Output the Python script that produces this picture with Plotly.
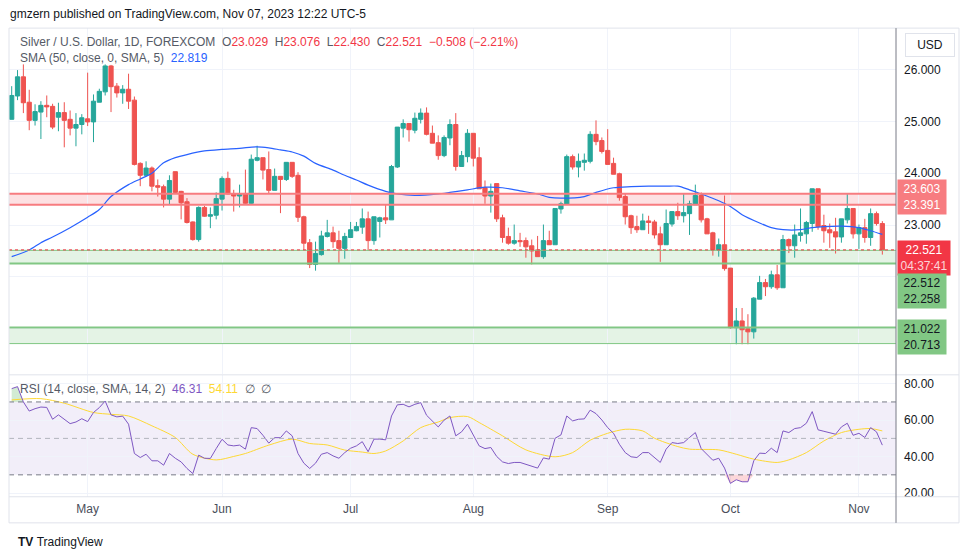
import numpy as np
import pandas as pd
import plotly.graph_objects as go

# Silver / USD daily candles (FOREXCOM), 150 sessions ending 7 Nov 2023
dates = [d.strftime("%Y-%m-%d") for d in pd.bdate_range(end="2023-11-07", periods=150)]

opens = [25.04, 25.49, 25.86, 25.37, 25.02, 25.18, 25.31, 25.29, 25.08, 25.17,
         25.04, 24.87, 24.94, 25.05, 24.99, 25.37, 25.57, 26.07, 25.68, 25.55,
         25.62, 25.41, 24.19, 23.96, 24.10, 23.76, 23.74, 23.50, 24.03, 23.65,
         23.45, 23.06, 22.72, 23.34, 23.17, 23.19, 23.50, 23.90, 23.60, 23.56,
         23.61, 23.42, 24.25, 24.30, 24.07, 23.67, 23.94, 23.88, 24.21, 23.96,
         23.16, 22.66, 22.24, 22.43, 22.78, 22.85, 22.70, 22.55, 22.76, 22.89,
         22.96, 23.12, 22.70, 23.07, 23.14, 23.10, 24.12, 24.87, 24.96, 24.83,
         25.04, 25.16, 24.77, 24.59, 24.34, 24.68, 24.94, 24.13, 24.32, 24.77,
         24.30, 23.72, 23.56, 23.80, 23.14, 22.78, 22.65, 22.70, 22.70, 22.60,
         22.52, 22.39, 22.70, 22.62, 23.31, 23.40, 24.32, 24.12, 24.21, 24.23,
         24.75, 24.63, 24.44, 24.19, 23.99, 23.55, 23.18, 22.97, 22.91, 23.08,
         23.06, 22.83, 22.62, 23.02, 23.26, 23.18, 23.22, 23.39, 23.57, 23.12,
         22.85, 22.52, 22.62, 22.17, 21.02, 21.15, 21.00, 20.94, 21.57, 21.89,
         21.81, 22.04, 21.79, 22.72, 22.60, 22.80, 22.83, 23.03, 23.70, 22.99,
         22.91, 22.87, 22.77, 23.10, 23.32, 22.83, 22.95, 22.76, 23.22, 23.029]
highs = [25.68, 25.99, 26.10, 25.61, 25.33, 25.39, 25.50, 25.34, 25.36, 25.37,
         25.21, 25.16, 25.14, 25.94, 25.52, 25.63, 26.10, 26.09, 25.74, 25.70,
         25.92, 25.48, 24.21, 24.23, 24.13, 23.88, 23.78, 23.96, 24.03, 23.66,
         23.52, 23.07, 23.36, 23.37, 23.34, 23.63, 23.94, 24.03, 23.68, 23.78,
         24.07, 24.36, 24.53, 24.30, 24.42, 24.09, 23.94, 24.21, 24.21, 24.02,
         23.18, 22.73, 22.68, 22.89, 23.10, 22.97, 22.89, 22.85, 23.06, 23.06,
         23.32, 23.26, 23.16, 23.16, 23.39, 24.16, 24.89, 25.04, 24.96, 25.17,
         25.25, 25.27, 24.92, 24.73, 24.73, 25.04, 25.16, 24.43, 24.85, 24.77,
         24.50, 23.86, 23.80, 23.80, 23.20, 22.95, 23.01, 22.85, 22.76, 22.72,
         22.79, 23.01, 22.89, 23.32, 23.45, 24.36, 24.36, 24.38, 24.38, 24.81,
         25.02, 24.69, 24.85, 24.30, 24.01, 23.61, 23.20, 23.18, 23.22, 23.18,
         23.10, 22.97, 23.30, 23.26, 23.43, 23.61, 23.47, 23.78, 23.63, 23.14,
         22.87, 22.74, 23.57, 22.17, 21.40, 21.40, 21.28, 21.61, 22.02, 21.96,
         22.12, 22.23, 22.81, 22.74, 23.01, 23.32, 23.08, 23.70, 23.70, 23.20,
         23.03, 23.14, 23.12, 23.61, 23.32, 23.01, 23.12, 23.32, 23.26, 23.076]
lows = [25.04, 25.41, 25.16, 24.83, 24.92, 24.66, 25.08, 24.85, 24.81, 24.50,
        24.73, 24.52, 24.75, 24.91, 24.60, 25.37, 25.50, 25.18, 25.46, 25.34,
        25.24, 24.15, 23.75, 23.94, 23.65, 23.55, 23.34, 23.39, 23.61, 23.11,
        23.03, 22.70, 22.68, 23.16, 22.94, 23.11, 23.28, 23.59, 23.26, 23.34,
        23.41, 23.41, 24.23, 23.88, 23.61, 23.67, 23.23, 23.85, 23.91, 23.06,
        22.52, 22.17, 22.12, 22.41, 22.76, 22.56, 22.27, 22.35, 22.76, 22.88,
        22.83, 22.50, 22.62, 22.76, 23.02, 23.10, 24.10, 24.69, 24.61, 24.77,
        24.96, 24.73, 24.58, 24.26, 24.31, 24.54, 24.05, 24.12, 24.21, 24.13,
        23.70, 23.41, 23.24, 23.06, 22.66, 22.62, 22.62, 22.58, 22.37, 22.24,
        22.39, 22.35, 22.62, 22.62, 23.22, 23.40, 24.07, 23.92, 24.05, 24.19,
        24.54, 24.38, 24.17, 23.98, 23.47, 23.01, 22.83, 22.85, 22.91, 22.83,
        22.74, 22.29, 22.62, 22.97, 23.10, 23.05, 22.81, 23.39, 23.05, 22.83,
        22.41, 22.39, 22.12, 21.00, 20.70, 20.70, 20.70, 20.81, 21.57, 21.63,
        21.77, 21.75, 21.79, 22.46, 22.37, 22.68, 22.64, 22.87, 22.91, 22.66,
        22.56, 22.45, 22.66, 23.03, 22.74, 22.54, 22.66, 22.60, 22.99, 22.430]
closes = [25.50, 25.86, 25.36, 25.02, 25.19, 25.31, 25.28, 24.89, 25.17, 25.02,
          24.87, 24.94, 25.07, 24.99, 25.39, 25.58, 26.07, 25.67, 25.55, 25.62,
          25.39, 24.17, 23.96, 24.10, 23.75, 23.73, 23.50, 23.86, 23.63, 23.43,
          23.05, 22.72, 23.34, 23.17, 23.20, 23.51, 23.90, 23.60, 23.56, 23.60,
          23.42, 24.27, 24.30, 24.06, 23.67, 23.94, 23.88, 24.21, 23.94, 23.15,
          22.65, 22.24, 22.45, 22.79, 22.85, 22.68, 22.55, 22.78, 22.91, 22.97,
          23.12, 22.70, 23.16, 23.14, 23.10, 24.13, 24.89, 24.96, 24.84, 25.06,
          25.16, 24.75, 24.58, 24.34, 24.69, 24.94, 24.13, 24.34, 24.77, 24.29,
          23.70, 23.56, 23.65, 23.12, 22.76, 22.65, 22.70, 22.68, 22.58, 22.50,
          22.39, 22.70, 22.62, 23.32, 23.41, 24.32, 24.12, 24.23, 24.25, 24.75,
          24.61, 24.42, 24.17, 23.98, 23.53, 23.16, 22.95, 22.91, 23.08, 23.05,
          22.81, 22.62, 23.03, 23.26, 23.18, 23.24, 23.41, 23.57, 23.10, 22.83,
          22.52, 22.62, 22.16, 21.02, 21.15, 20.98, 20.94, 21.59, 21.89, 21.81,
          22.04, 21.79, 22.72, 22.60, 22.81, 22.85, 23.05, 23.70, 22.97, 22.89,
          22.85, 22.77, 23.12, 23.32, 22.83, 22.95, 22.76, 23.22, 23.029, 22.521]

# SMA(50) at a few candles (1-based candle number)
sma_idx = [1, 4, 6, 8, 11, 14, 16, 18, 21, 23, 25, 27, 29, 31, 34, 37, 40, 43, 45, 47,
           49, 51, 53, 56, 58, 60, 62, 65, 67, 70, 74, 76, 79, 82, 85, 88, 91, 93, 95, 99,
           101, 104, 107, 110, 113, 115, 117, 119, 122, 124, 126, 129, 131, 133, 136, 138,
           140, 143, 146, 148, 150]
sma_val = [22.39, 22.52, 22.66, 22.77, 22.95, 23.15, 23.30, 23.55, 23.78, 23.89,
           24.00, 24.20, 24.30, 24.36, 24.43, 24.46, 24.48, 24.51, 24.49, 24.45,
           24.41, 24.33, 24.19, 24.06, 23.96, 23.87, 23.77, 23.65, 23.60, 23.57,
           23.60, 23.63, 23.68, 23.73, 23.72, 23.66, 23.60, 23.535, 23.52, 23.55,
           23.63, 23.72, 23.74, 23.75, 23.75, 23.75, 23.68, 23.60, 23.47, 23.36,
           23.20, 23.04, 22.95, 22.91, 22.91, 22.95, 22.97, 22.98, 22.95, 22.89, 22.819]

rsi = [77.3, 78.4, 70.0, 65.0, 66.3, 67.2, 67.0, 60.5, 62.9, 60.5,
       58.1, 59.0, 60.8, 59.2, 64.2, 66.9, 70.5, 62.9, 61.8, 62.2,
       57.8, 41.7, 39.5, 41.3, 37.7, 37.7, 35.3, 41.7, 39.1, 37.1,
       33.5, 30.7, 40.8, 39.1, 39.0, 44.4, 49.5, 46.4, 45.9, 46.3,
       44.1, 55.9, 55.4, 51.7, 47.4, 50.4, 50.4, 54.1, 51.4, 41.7,
       36.4, 33.5, 36.4, 41.3, 42.2, 40.4, 39.1, 42.2, 44.6, 45.9,
       48.2, 42.7, 49.6, 49.6, 49.2, 62.3, 68.4, 68.7, 67.3, 68.7,
       69.6, 62.7, 59.6, 56.3, 60.0, 62.3, 51.4, 53.6, 57.8, 51.7,
       45.9, 44.4, 45.0, 40.1, 37.1, 36.2, 36.8, 36.8, 35.9, 35.0,
       33.7, 39.3, 38.6, 50.1, 51.9, 62.3, 59.6, 60.5, 60.7, 65.5,
       63.6, 60.1, 55.9, 52.8, 46.8, 42.2, 39.9, 39.5, 42.2, 42.2,
       39.5, 36.8, 44.1, 47.7, 47.2, 47.7, 50.5, 53.2, 44.4, 41.0,
       38.0, 39.1, 33.7, 25.3, 27.3, 26.2, 26.2, 37.7, 41.9, 41.7,
       44.6, 42.2, 54.1, 53.2, 55.4, 55.9, 58.3, 64.7, 54.7, 53.9,
       53.2, 52.3, 56.3, 58.3, 51.7, 52.8, 50.5, 55.9, 53.6, 46.31]

# RSI-based SMA(14), read at a few candles
rsi_ma_idx = [1, 6, 10, 15, 18, 21, 25, 29, 32, 36, 39, 41, 45, 49, 52, 55, 58, 61, 63, 65,
              68, 71, 74, 76, 79, 81, 85, 89, 94, 97, 100, 103, 106, 109, 111, 115, 117,
              122, 125, 128, 132, 134, 137, 140, 143, 146, 148, 150]
rsi_ma_val = [71.1, 71.8, 69.3, 64.2, 63.2, 62.3, 56.9, 50.5, 41.3, 38.2, 40.1, 41.7,
              46.3, 49.6, 47.2, 46.4, 43.6, 42.5, 41.7, 43.1, 48.6, 55.9, 59.0, 61.4,
              62.0, 58.7, 51.4, 43.7, 39.9, 42.2, 49.0, 52.8, 55.0, 54.1, 50.1, 45.5,
              44.1, 43.7, 41.3, 38.6, 36.8, 38.2, 42.2, 48.6, 53.2, 55.0, 55.4, 54.11]

month_starts = ["2023-05-01", "2023-06-01", "2023-07-03", "2023-08-01",
                "2023-09-01", "2023-10-02", "2023-11-01"]
month_labels = ["May", "Jun", "Jul", "Aug", "Sep", "Oct", "Nov"]

resistance = [23.391, 23.603]
support_hi = [22.258, 22.512]
support_lo = [20.713, 21.022]
countdown = "04:37:41"

W, H = 970, 557
FONT = "Liberation Sans"
GRID = "#f0f3fa"
UP, DOWN = "#26a69a", "#ef5350"
YK = 1.009  # small vertical stretch, the rendered page came out slightly short


def px(x):
    return x / W


def py(y):
    return 1 - y * YK / H


fig = go.Figure()

fig.add_trace(go.Candlestick(
    x=dates, open=opens, high=highs, low=lows, close=closes,
    increasing=dict(line=dict(color=UP, width=1), fillcolor=UP),
    decreasing=dict(line=dict(color=DOWN, width=1), fillcolor=DOWN),
    whiskerwidth=0, showlegend=False, hoverinfo="skip"))

fig.add_trace(go.Scatter(
    x=[dates[i - 1] for i in sma_idx], y=sma_val, mode="lines",
    line=dict(color="#2962ff", width=1.2, shape="spline", smoothing=0.8),
    showlegend=False, hoverinfo="skip"))

# RSI pane
rsi_arr = np.array(rsi)
fig.add_trace(go.Scatter(x=dates, y=[70] * len(dates), mode="lines", line=dict(width=0),
                         xaxis="x2", yaxis="y2", showlegend=False, hoverinfo="skip"))
fig.add_trace(go.Scatter(x=dates, y=np.maximum(rsi_arr, 70), mode="lines", line=dict(width=0),
                         fill="tonexty", fillcolor="rgba(76,175,80,0.25)",
                         xaxis="x2", yaxis="y2", showlegend=False, hoverinfo="skip"))
fig.add_trace(go.Scatter(x=dates, y=[30] * len(dates), mode="lines", line=dict(width=0),
                         xaxis="x2", yaxis="y2", showlegend=False, hoverinfo="skip"))
fig.add_trace(go.Scatter(x=dates, y=np.minimum(rsi_arr, 30), mode="lines", line=dict(width=0),
                         fill="tonexty", fillcolor="rgba(242,54,69,0.2)",
                         xaxis="x2", yaxis="y2", showlegend=False, hoverinfo="skip"))
fig.add_trace(go.Scatter(
    x=[dates[i - 1] for i in rsi_ma_idx], y=rsi_ma_val, mode="lines",
    line=dict(color="#fdd835", width=1, shape="spline", smoothing=0.8),
    xaxis="x2", yaxis="y2", showlegend=False, hoverinfo="skip"))
fig.add_trace(go.Scatter(x=dates, y=rsi, mode="lines", line=dict(color="#7e57c2", width=1),
                         xaxis="x2", yaxis="y2", showlegend=False, hoverinfo="skip"))

shapes = []
# price zones
for lo_hi, fill, line_c, widths in [
        (resistance, "rgba(242,54,69,0.15)", "#f77c80", (2, 2)),
        (support_hi, "rgba(76,175,80,0.15)", "#81c784", (2, 1)),
        (support_lo, "rgba(76,175,80,0.15)", "#81c784", (1, 2))]:
    shapes.append(dict(type="rect", xref="x domain", yref="y", x0=0, x1=1,
                       y0=lo_hi[0], y1=lo_hi[1], fillcolor=fill, line=dict(width=0), layer="below"))
    for val, w in zip(lo_hi, widths):
        shapes.append(dict(type="line", xref="x domain", yref="y", x0=0, x1=1,
                           y0=val, y1=val, line=dict(color=line_c, width=w)))
# last price dotted line
shapes.append(dict(type="line", xref="x domain", yref="y", x0=0, x1=1,
                   y0=closes[-1], y1=closes[-1], line=dict(color="#f23645", width=1, dash="dot")))
# RSI band and levels
shapes.append(dict(type="rect", xref="x2 domain", yref="y2", x0=0, x1=1, y0=30, y1=70,
                   fillcolor="rgba(126,87,194,0.1)", line=dict(width=0), layer="below"))
for lvl, col in [(70, "#787b86"), (50, "#b2b5be"), (30, "#787b86")]:
    shapes.append(dict(type="line", xref="x2 domain", yref="y2", x0=0, x1=1, y0=lvl, y1=lvl,
                       line=dict(color=col, width=1, dash="5px,4px")))
# frame and separators
shapes += [
    dict(type="rect", xref="paper", yref="paper", x0=px(9), x1=px(959), y0=py(521), y1=py(28),
         line=dict(color="#e0e3eb", width=1)),
    dict(type="line", xref="paper", yref="paper", x0=px(9), x1=px(959), y0=py(373.5), y1=py(373.5),
         line=dict(color="#e0e3eb", width=1)),
    dict(type="line", xref="paper", yref="paper", x0=px(9), x1=px(959), y0=py(495), y1=py(495),
         line=dict(color="#e0e3eb", width=1)),
    dict(type="line", xref="paper", yref="paper", x0=px(896), x1=px(896), y0=py(521), y1=py(28),
         line=dict(color="#787b86", width=1)),
]

RED = "#f23645"
o, h, l, c = opens[-1], highs[-1], lows[-1], closes[-1]
chg = c - closes[-2]
pct = chg / closes[-2] * 100
sp = "&nbsp;&nbsp;"


def red(t):
    return f"<span style='color:{RED}'>{t}</span>"


legend1 = (f"Silver / U.S. Dollar, 1D, FOREXCOM{sp}O{red(f'{o:.3f}')}{sp}H{red(f'{h:.3f}')}"
           f"{sp}L{red(f'{l:.3f}')}{sp}C{red(f'{c:.3f}')}{sp}"
           + red(f"{chg:+.3f} ({pct:+.2f}%)".replace("-", "−")))
legend2 = f"SMA (50, close, 0, SMA, 5){sp}<span style='color:#2962ff'>{sma_val[-1]:.3f}</span>"
legend3 = (f"RSI (14, close, SMA, 14, 2){sp}<span style='color:#7e57c2'>{rsi[-1]:.2f}</span>"
           f"{sp}<span style='color:#fdd835'>{rsi_ma_val[-1]:.2f}</span>{sp}∅{sp}∅")

annotations = [
    dict(text="gmzern published on TradingView.com, Nov 07, 2023 12:22 UTC-5",
         x=px(8), y=py(14), font=dict(size=12, color="#131722")),
    dict(text=legend1, x=px(18), y=py(42), font=dict(size=12, color="#555a66")),
    dict(text=legend2, x=px(18), y=py(58), font=dict(size=12, color="#555a66")),
    dict(text=legend3, x=px(18), y=py(388), font=dict(size=12, color="#555a66")),
    dict(text="<b>TV</b>&nbsp;TradingView", x=px(16), y=py(540), font=dict(size=12, color="#131722")),
]
for a in annotations:
    a.update(xref="paper", yref="paper", xanchor="left", yanchor="middle", showarrow=False)

annotations.append(dict(text="USD", x=px(930), y=py(45), xref="paper", yref="paper",
                        xanchor="center", yanchor="middle",
                        showarrow=False, font=dict(size=12, color="#131722"),
                        bordercolor="#e0e3eb", borderwidth=1, borderpad=4, width=40))

# price-scale labels
for txt, yv, shift, bg, fc, wd in [
        (f"{resistance[1]:.3f}<br>{resistance[0]:.3f}", np.mean(resistance), 2, "#f77c80", "white", 44),
        (f"{closes[-1]:.3f}<br><span style='color:rgba(255,255,255,0.8)'>{countdown}</span>",
         closes[-1], -8, RED, "white", 48),
        (f"{support_hi[1]:.3f}<br>{support_hi[0]:.3f}", np.mean(support_hi), -34, "#81c784", "#131722", 44),
        (f"{support_lo[1]:.3f}<br>{support_lo[0]:.3f}", np.mean(support_lo), -1, "#81c784", "#131722", 44)]:
    annotations.append(dict(text=txt, x=px(897), y=yv, xref="paper", yref="y", yshift=shift,
                            xanchor="left", yanchor="middle", showarrow=False,
                            bgcolor=bg, font=dict(size=12, color=fc), borderpad=2, width=wd))

xcommon = dict(domain=[px(9), px(896)], type="category", range=[-0.46, 151.34],
               tickmode="array", tickvals=month_starts, ticktext=month_labels,
               showgrid=True, gridcolor=GRID, zeroline=False, showline=False, ticks="")

fig.update_layout(
    width=W, height=H, margin=dict(l=0, r=0, t=0, b=0),
    paper_bgcolor="white", plot_bgcolor="white",
    font=dict(family=FONT, size=12, color="#131722"),
    hovermode=False, showlegend=False, boxgap=0.15, boxgroupgap=0.15,
    xaxis=dict(**xcommon, anchor="y", showticklabels=False, rangeslider=dict(visible=False)),
    xaxis2=dict(**xcommon, anchor="y2", matches="x", showticklabels=True,
                tickfont=dict(size=12, color="#4a4e5a"), ticklabelstandoff=3),
    yaxis=dict(domain=[py(373), py(28)], side="right", range=[20.12, 26.80], anchor="x",
               tickmode="array", tickvals=[21, 22, 23, 24, 25, 26],
               ticktext=["", "", "23.000", "24.000", "25.000", "26.000"],
               showgrid=True, gridcolor=GRID, zeroline=False, ticks="", ticklabelstandoff=7,
               tickfont=dict(size=12, color="#131722")),
    yaxis2=dict(domain=[py(495), py(374)], side="right", range=[17.97, 84.6], anchor="x2",
                tickmode="array", tickvals=[20, 40, 60, 80],
                ticktext=["20.00", "40.00", "60.00", "80.00"],
                showgrid=True, gridcolor=GRID, zeroline=False, ticks="", ticklabelstandoff=7,
                tickfont=dict(size=12, color="#131722")),
    shapes=shapes, annotations=annotations,
)

# drop the default page margin and the inline line-box gap so the page is exactly the figure
page_fix = ("document.body.style.margin='0';"
            "document.body.style.overflow='hidden';"
            "document.querySelectorAll('.svg-container').forEach(function(e){e.style.display='block';});")
fig.write_html("out.html", config={"displayModeBar": False}, post_script=page_fix)
